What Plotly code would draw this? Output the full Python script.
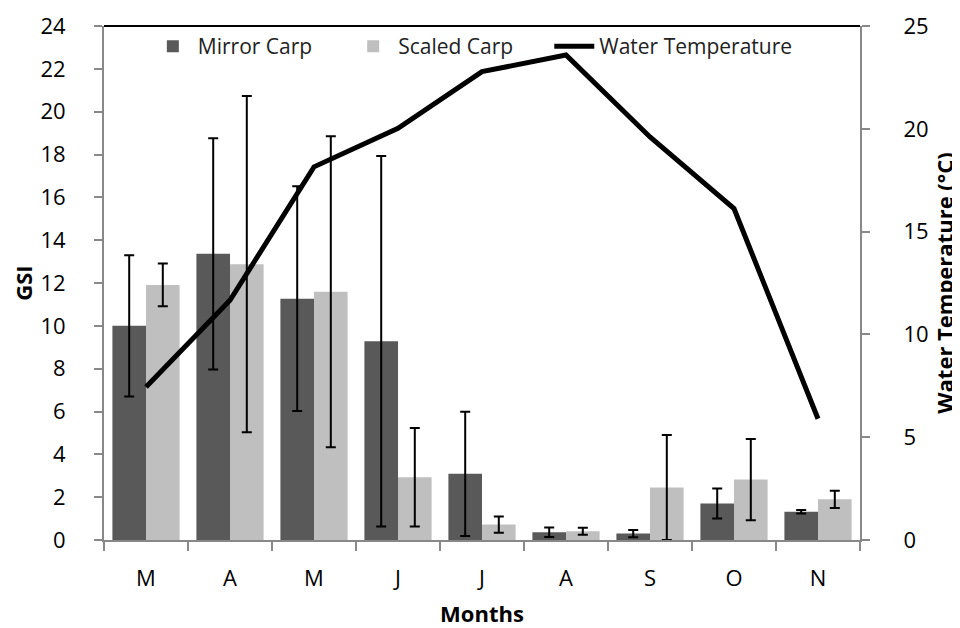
import plotly.graph_objects as go

months = ["M", "A", "M", "J", "J", "A", "S", "O", "N"]
mirror_gsi = [10.0, 13.36, 11.27, 9.28, 3.09, 0.36, 0.30, 1.70, 1.32]
mirror_err = [3.3, 5.4, 5.25, 8.65, 2.9, 0.22, 0.17, 0.70, 0.08]
scaled_gsi = [11.91, 12.88, 11.59, 2.93, 0.72, 0.41, 2.45, 2.82, 1.90]
scaled_err = [1.0, 7.85, 7.26, 2.3, 0.38, 0.16, 2.45, 1.9, 0.40]
water_temp = [7.44, 11.66, 18.15, 20.02, 22.78, 23.59, 19.6, 16.12, 5.9]

xpos = list(range(len(months)))
FONT = "Open Sans, sans-serif"
AXIS_GRAY = "#888888"

fig = go.Figure()
fig.add_trace(go.Bar(
    x=xpos, y=mirror_gsi, name="Mirror Carp", legend="legend",
    marker=dict(color="#595959", line=dict(width=0)),
    error_y=dict(type="data", array=mirror_err, color="black", thickness=2, width=5),
))
fig.add_trace(go.Bar(
    x=xpos, y=scaled_gsi, name="Scaled Carp", legend="legend2",
    marker=dict(color="#bfbfbf", line=dict(width=0)),
    error_y=dict(type="data", array=scaled_err, color="black", thickness=2, width=5),
))
fig.add_trace(go.Scatter(
    x=xpos, y=water_temp, name="Water Temperature", yaxis="y2", legend="legend3",
    mode="lines", line=dict(color="black", width=5),
))

def leg(xp):
    return dict(
        orientation="h", x=xp, y=1.0, xanchor="left", yanchor="top",
        font=dict(family=FONT, size=21, color="#222222"),
        bgcolor="rgba(0,0,0,0)", itemwidth=40,
    )

fig.update_layout(
    width=952, height=620,
    margin=dict(l=96, r=100, t=18, b=88, autoexpand=False),
    paper_bgcolor="white", plot_bgcolor="white",
    font=dict(family=FONT, size=20, color="black"),
    barmode="group", bargap=0.2, bargroupgap=0,
    showlegend=True,
    legend=leg(0.058), legend2=leg(0.323), legend3=leg(0.589),
    xaxis=dict(
        range=[-0.5, 8.5], automargin=False,
        tickmode="array", tickvals=xpos, ticktext=months,
        ticks="", showline=True, linecolor=AXIS_GRAY, linewidth=2,
        showgrid=False, zeroline=False,
        tickfont=dict(family=FONT, size=22, color="black"),
        ticklabelstandoff=18,
        minor=dict(tick0=-0.5, dtick=1, ticks="outside", ticklen=9,
                   tickcolor=AXIS_GRAY, tickwidth=2),
        title=dict(text="<b>Months</b>", font=dict(family=FONT, size=22, color="black"),
                   standoff=24),
    ),
    yaxis=dict(
        range=[0, 24], tickmode="linear", tick0=0, dtick=2, automargin=False,
        ticks="outside", ticklen=8, tickcolor=AXIS_GRAY, tickwidth=2,
        showline=True, linecolor=AXIS_GRAY, linewidth=2,
        showgrid=False, zeroline=False,
        tickfont=dict(family=FONT, size=22, color="black"),
        ticklabelstandoff=24,
        title=dict(text="<b>GSI</b>", font=dict(family=FONT, size=22, color="black"),
                   standoff=3),
    ),
    yaxis2=dict(
        overlaying="y", side="right", automargin=False,
        range=[0, 25], tickmode="linear", tick0=0, dtick=5,
        ticks="outside", ticklen=8, tickcolor=AXIS_GRAY, tickwidth=2,
        showline=True, linecolor=AXIS_GRAY, linewidth=2,
        showgrid=False, zeroline=False,
        tickfont=dict(family=FONT, size=22, color="black"),
        ticklabelstandoff=29,
        title=dict(text="<b>Water Temperature (°C)</b>",
                   font=dict(family=FONT, size=22, color="black"), standoff=6),
    ),
    shapes=[dict(type="line", xref="paper", yref="paper", x0=0, x1=1, y0=1, y1=1,
                 line=dict(color="black", width=2))],
)

fig.write_html("out.html")
